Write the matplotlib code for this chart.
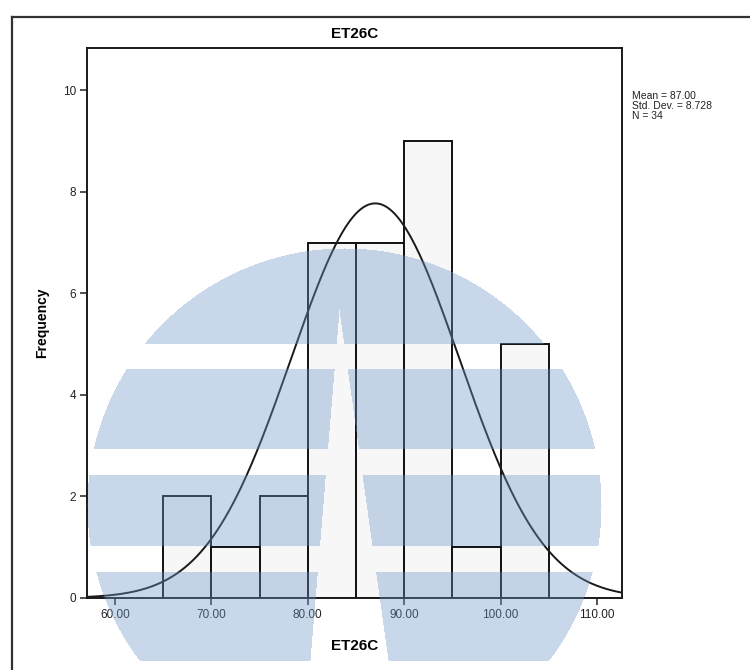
import numpy as np
import matplotlib
matplotlib.use('Agg')
import matplotlib.pyplot as plt

plt.rcParams['font.family'] = ['Liberation Sans', 'DejaVu Sans']

# histogram data
bin_edges = [65, 70, 75, 80, 85, 90, 95, 100, 105]
counts = [2, 1, 2, 7, 7, 9, 1, 5]
mean = 87.00
std = 8.728
n = 34
xticks = [60, 70, 80, 90, 100, 110]
yticks = [0, 2, 4, 6, 8, 10]

W, H = 750, 670
fig = plt.figure(figsize=(W / 100, H / 100), dpi=100)

# outer frame (left and top edges visible)
fig.add_artist(plt.Line2D([12 / W, 12 / W], [0, 1 - 17 / H], color='#333333', lw=1.6))
fig.add_artist(plt.Line2D([12 / W, 1], [1 - 17 / H, 1 - 17 / H], color='#333333', lw=1.6))

ax = fig.add_axes([87 / W, 1 - 598 / H, (622 - 87) / W, (598 - 48) / H])

widths = np.diff(bin_edges)
ax.bar(bin_edges[:-1], counts, width=widths, align='edge',
       color='#f7f7f7', edgecolor='#111111', linewidth=1.4)

xs = np.linspace(57.1, 112.6, 400)
bw = bin_edges[1] - bin_edges[0]
ys = n * bw / (std * np.sqrt(2 * np.pi)) * np.exp(-0.5 * ((xs - mean) / std) ** 2)
ax.plot(xs, ys, color='#1a1a1a', lw=1.4)

ax.set_xlim(57.1, 112.6)
ax.set_ylim(0, 10.83)
ax.set_xticks(xticks)
ax.set_xticklabels([f'{v:.2f}' for v in xticks])
ax.set_yticks(yticks)
ax.tick_params(direction='out', length=5, width=1.1, labelsize=8.5, colors='#222222', pad=3)
for s in ax.spines.values():
    s.set_color('#1a1a1a')
    s.set_linewidth(1.4)

ax.set_title('ET26C', fontsize=11, fontweight='bold', pad=7)
ax.set_xlabel('ET26C', fontsize=11, fontweight='bold', labelpad=13)
ax.set_ylabel('Frequency', fontsize=10, fontweight='bold', labelpad=10)

fig.text(632 / W, 1 - 91 / H, f'Mean = {mean:.2f}\nStd. Dev. = {std:.3f}\nN = {n}',
         fontsize=7.5, va='top', ha='left', linespacing=1.0, color='#222222')

# light blue watermark laid over the chart
yy, xx = np.mgrid[0:H, 0:W]
cx, cy, r = 344, 505, 257
mask = ((xx - cx) ** 2 + (yy - cy) ** 2 <= r ** 2) & (yy <= 660)
for y0, y1 in [(344, 368), (449, 474), (546, 571)]:
    mask &= ~((yy >= y0) & (yy <= y1))
apex_x, apex_y = 339, 310
t = np.clip((yy - apex_y) / (660 - apex_y), 0, None)
left_edge = apex_x + t * (310 - apex_x)
right_edge = apex_x + t * (388 - apex_x)
mask &= ~((yy >= apex_y) & (xx >= left_edge) & (xx <= right_edge))

rgba = np.zeros((H, W, 4))
rgba[..., 0] = 110 / 255
rgba[..., 1] = 150 / 255
rgba[..., 2] = 197 / 255
rgba[..., 3] = mask * 0.38

ov = fig.add_axes([0, 0, 1, 1], zorder=10)
ov.imshow(rgba, extent=(0, W, H, 0), interpolation='bilinear')
ov.set_xlim(0, W)
ov.set_ylim(H, 0)
ov.axis('off')

fig.savefig('out.png', dpi=100)
